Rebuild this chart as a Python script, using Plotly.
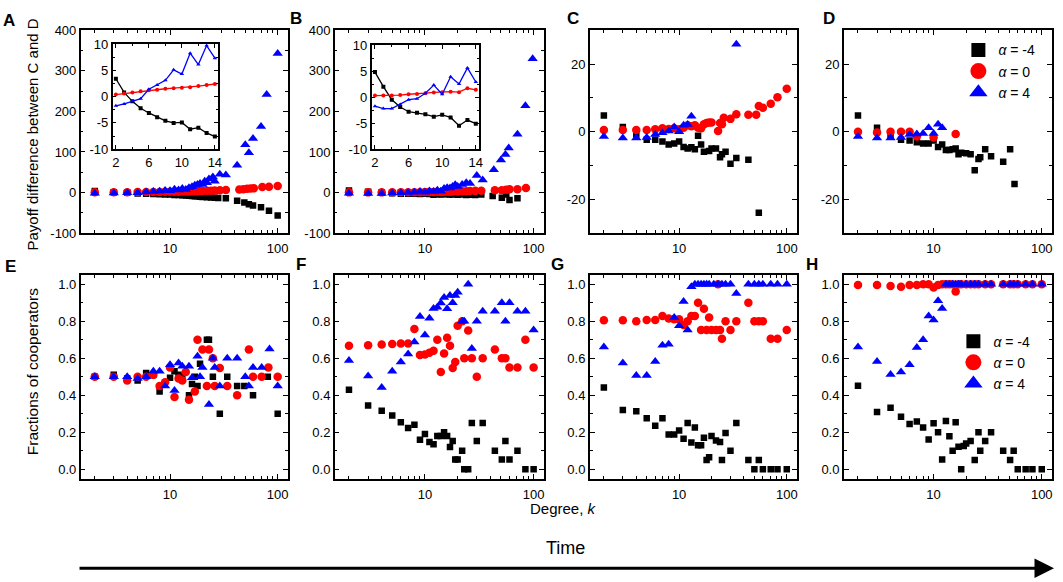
import plotly.graph_objects as go

W, H = 1063, 582
FONT = "Liberation Sans, Arial, sans-serif"

# degrees shown in the insets (and first points of every panel)
K_LOW = [2, 3, 4, 5, 6, 7, 8, 9, 10, 11, 12, 13, 14]

# ---- A: payoff difference between C and D
A_NEG_K = K_LOW + [15, 16, 17, 18, 19, 20, 22, 24, 26, 28, 33, 42, 49, 54, 59, 70, 83, 100]
A_NEG_V = [3.4, 0.8, -0.9, -2.2, -3.1, -3.9, -4.6, -5.0, -4.9, -6.2, -5.9, -6.9, -7.6,
           -8, -8.5, -9, -9.5, -10.5, -11, -12, -12.5, -13, -13.5, -14.4, -20.6, -24.7, -28.8,
           -31.9, -36.7, -44.8, -56.8]
A_ZERO_K = K_LOW + [15, 16, 17, 18, 19, 20, 22, 24, 26, 29, 33, 44, 48, 52, 56, 60, 72, 83, 100]
A_ZERO_V = [0.4, 0.6, 0.8, 1.0, 1.2, 1.3, 1.5, 1.6, 1.7, 1.8, 2.0, 2.2, 2.4,
            2.6, 2.8, 3.0, 3.3, 3.5, 3.8, 4.2, 4.6, 5.0, 5.5, 6.0, 7.3, 8, 9, 10, 10.5, 13.7, 14, 16]
A_POS_K = K_LOW + [15, 16, 17, 18, 19, 20, 21, 22, 23, 25, 26, 29, 33, 42, 50, 54, 59, 70, 79, 100]
A_POS_V = [-1.75, -1.4, -0.9, -0.4, 1.4, 2.2, 3.1, 5.1, 4.3, 8.25, 6.1, 9.7, 7.3,
           12, 14, 18, 20, 22, 20, 28, 24, 33, 38, 28, 45, 43, 67, 118, 98, 133, 163, 242, 343]

# ---- B
B_NEG_K = K_LOW + [15, 16, 17, 18, 20, 22, 24, 26, 29, 33, 42, 51, 56, 60, 71]
B_NEG_V = [4.8, 2.0, -0.5, -1.9, -2.8, -3.0, -3.3, -3.75, -3.4, -3.9, -5.5, -4.4, -5.1,
           -4, -4.5, -5, -4.8, -5.5, -5, -6, -5.5, -6.4, -5, -8.8, -12.7, -4.8, -18.4, -14.4]
B_ZERO_K = K_LOW + [15, 16, 17, 18, 20, 22, 24, 26, 29, 33, 44, 51, 56, 60, 71, 85]
B_ZERO_V = [0.3, 0.3, 0.3, 0.4, 0.55, 0.6, 0.75, 0.9, 0.95, 1.05, 0.95, 1.7, 1.4,
            1.6, 1.8, 2, 2.2, 2.5, 3, 3.3, 3.6, 4, 4.5, 5.7, 5.7, 7, 8, 8, 11.3]
B_POS_K = K_LOW + [15, 16, 17, 18, 19, 20, 22, 24, 26, 30, 34, 43, 50, 55, 59, 71, 84, 98]
B_POS_V = [-1.75, -2.2, -2.2, -1.4, -0.5, -0.3, 0.75, 2.3, 0.55, 3.9, 2.5, 5.6, 2.9,
           10, 12, 11, 15, 19, 15, 20, 24, 22, 41.7, 31, 56, 80, 94, 110, 144, 214, 330]

# ---- C
C_NEG_K = K_LOW + [15, 16, 17, 19, 20, 22, 24, 25, 27, 30, 34, 44, 55]
C_NEG_V = [4.8, 1.4, -0.8, -2.4, -2.4, -2.9, -3.8, -3.5, -2.9, -4.5, -5.0, -4.6, -5.2,
           -1.2, -3.8, -5.9, -5.7, -5.0, -5.0, -7.6, -6.7, -5.9, -9.5, -7.8, -8.3, -24.0]
C_ZERO_K = K_LOW + [15, 16, 17, 18, 19, 20, 23, 24, 25, 26, 30, 34, 44, 52, 55, 60, 71, 82, 100]
C_ZERO_V = [0.5, 0.5, 0.5, 0.5, 0.7, 1.0, 0.8, 1.0, 0.7, 1.2, 1.9, 1.6, 1.9,
            1.2, 1.0, 2.2, 2.6, 2.7, 2.7, 0.2, 2.6, 2.2, 4.1, 3.8, 5.2, 5.0, 5.0, 7.6, 7.1, 8.3, 10.2, 12.7]
C_POS_K = [2, 3, 4, 5, 6, 7, 8, 9, 10, 11, 12, 13, 34]
C_POS_V = [-1.4, -1.9, -1.9, -1.7, -0.8, -0.3, 0.2, 1.4, 0.0, 1.9, 2.1, 4.6, 25.9]

# ---- D
D_NEG_K = K_LOW + [15, 16, 17, 18, 20, 22, 24, 26, 27, 30, 34, 44, 51, 56]
D_NEG_V = [4.8, 1.2, -1.2, -2.4, -2.6, -3.1, -3.5, -3.5, -2.6, -4.5, -3.8, -5.4, -5.4,
           -5.2, -5.0, -6.7, -6.2, -6.4, -6.7, -11.4, -8.1, -7.6, -5.2, -7.3, -8.9, -5.2, -15.5]
D_ZERO_K = [2, 3, 4, 5, 6, 7, 10, 16]
D_ZERO_V = [0, -0.2, 0, 0, 0, -1.4, -1.7, -0.7]
D_POS_K = [2, 3, 4, 5, 6, 7, 8, 9, 10, 11, 12]
D_POS_V = [-1.4, -1.9, -1.9, -1.7, -0.8, -0.7, -0.5, 1.2, -0.5, 2.2, 1.2]

# ---- E: fractions of cooperators
E_NEG_K = [2, 3, 4, 5, 6, 7, 8, 10, 11, 12, 13, 15, 16, 17, 18, 19, 22, 23, 25, 29, 34, 42, 49, 59, 81, 100]
E_NEG_V = [0.50, 0.51, 0.49, 0.48, 0.52, 0.51, 0.42, 0.495, 0.53, 0.51, 0.50, 0.40, 0.46,
           0.50, 0.45, 0.57, 0.70, 0.70, 0.50, 0.30, 0.50, 0.45, 0.45, 0.40, 0.50, 0.30]
E_ZERO_K = [2, 3, 4, 5, 6, 7, 8, 9, 10, 11, 12, 13, 14, 15, 17, 18, 20, 22, 23, 25, 26, 29, 34, 42, 54, 59, 71, 82, 100]
E_ZERO_V = [0.50, 0.50, 0.48, 0.50, 0.50, 0.51, 0.45, 0.47, 0.55, 0.39, 0.49, 0.48, 0.525, 0.375,
            0.42, 0.70, 0.647, 0.45, 0.647, 0.60, 0.45, 0.547, 0.45, 0.40, 0.647, 0.50, 0.50, 0.55, 0.50]
E_POS_K = [2, 3, 4, 5, 6, 7, 8, 9, 10, 11, 12, 13, 15, 16, 18, 19, 20, 23, 25, 26, 29, 34, 42, 50, 54, 59, 71, 84, 100]
E_POS_V = [0.50, 0.50, 0.50, 0.49, 0.50, 0.53, 0.53, 0.45, 0.565, 0.425, 0.574, 0.556,
           0.556, 0.495, 0.61, 0.50, 0.55, 0.35, 0.60, 0.55, 0.45, 0.60, 0.60, 0.50, 0.45, 0.55, 0.55, 0.65, 0.45]

# ---- F
F_K = K_LOW + [15, 16, 17, 18, 19, 20, 22, 23, 25, 27, 30, 34, 44, 51, 55, 60, 71, 84, 100]
F_NEG_V = [0.43, 0.345, 0.316, 0.29, 0.254, 0.223, 0.24, 0.16, 0.19, 0.147, 0.135, 0.18, 0.18,
           0.20, 0.18, 0.12, 0.153, 0.053, 0.053, 0.10, 0.0, 0.0, 0.25, 0.153, 0.25, 0.10, 0.053,
           0.153, 0.053, 0.10, 0.0, 0.0]
F_ZERO_V = [0.667, 0.67, 0.674, 0.677, 0.679, 0.679, 0.758, 0.617, 0.62, 0.63, 0.64, 0.70, 0.525,
            0.626, 0.71, 0.667, 0.547, 0.58, 0.775, 0.80, 0.60, 0.75, 0.60, 0.50, 0.60, 0.647, 0.60,
            0.60, 0.55, 0.55, 0.70, 0.55]
F_POS_V = [0.588, 0.504, 0.442, 0.53, 0.579, 0.623, 0.688, 0.825, 0.726, 0.816, 0.868, 0.875, 0.898,
           0.928, 0.867, 0.939, 0.90, 0.939, 0.956, 0.80, 0.80, 1.0, 0.653, 0.80, 0.854, 0.854, 0.90,
           0.80, 0.90, 0.854, 0.854, 0.753]

# ---- G
G_NEG_K = K_LOW + [15, 16, 17, 18, 19, 20, 22, 24, 25, 27, 30, 34, 44, 50, 55, 60, 71, 82, 100]
G_NEG_V = [0.442, 0.32, 0.314, 0.275, 0.235, 0.275, 0.188, 0.188, 0.21, 0.165, 0.25, 0.144, 0.226,
           0.13, 0.13, 0.17, 0.05, 0.065, 0.18, 0.156, 0.147, 0.05, 0.196, 0.10, 0.25, 0.05, 0.0,
           0.05, 0.0, 0.0, 0.0, 0.0]
G_ZERO_K = K_LOW + [15, 16, 17, 18, 19, 20, 22, 23, 24, 25, 27, 30, 34, 44, 50, 55, 60, 71, 82, 100]
G_ZERO_V = [0.805, 0.805, 0.80, 0.807, 0.807, 0.828, 0.814, 0.81, 0.81, 0.78, 0.80, 0.828, 0.828,
            0.90, 0.753, 0.867, 0.753, 0.82, 0.753, 0.753, 1.0, 0.753, 0.705, 0.80, 0.753, 0.80,
            0.90, 0.80, 0.80, 0.80, 0.705, 0.705, 0.753]
G_POS_K = K_LOW + [15, 16, 17, 18, 19, 21, 23, 25, 27, 30, 34, 44, 50, 55, 60, 71, 82, 100]
G_POS_V = [0.661, 0.574, 0.507, 0.507, 0.582, 0.67, 0.675, 0.82, 0.775, 0.907, 0.753, 0.986, 1.0,
           1.0, 1.0, 1.0, 1.0, 1.0, 1.0, 1.0, 1.0, 1.0, 1.0, 0.95, 1.0, 1.0, 1.0, 1.0, 1.0, 1.0, 1.0]

# ---- H
H_NEG_K = K_LOW + [15, 16, 17, 18, 19, 20, 22, 24, 26, 27, 30, 34, 44, 51, 55, 60, 71, 82, 100]
H_NEG_V = [0.451, 0.31, 0.333, 0.284, 0.244, 0.258, 0.226, 0.161, 0.249, 0.20, 0.053, 0.261, 0.179,
           0.10, 0.254, 0.121, 0.0, 0.126, 0.139, 0.153, 0.05, 0.20, 0.10, 0.153, 0.20, 0.10, 0.05,
           0.10, 0.0, 0.0, 0.0, 0.0]
H_K = K_LOW + [15, 16, 17, 18, 20, 22, 24, 26, 30, 34, 44, 51, 55, 60, 71, 82, 100]
H_ZERO_V = [0.995, 0.995, 0.99, 0.986, 0.995, 0.995, 1.0, 1.0, 0.982, 0.995, 1.0, 1.0, 1.0,
            1.0, 0.96, 1.0, 1.0, 1.0, 1.0, 1.0, 1.0, 1.0, 1.0, 1.0, 1.0, 1.0, 1.0, 1.0, 1.0, 1.0]
H_POS_V = [0.661, 0.582, 0.512, 0.525, 0.565, 0.658, 0.70, 0.828, 0.807, 0.91, 0.868, 1.0, 1.0,
           1.0, 1.0, 1.0, 1.0, 1.0, 1.0, 1.0, 1.0, 1.0, 1.0, 1.0, 1.0, 1.0, 1.0, 1.0, 1.0, 1.0]

SERIES_NAMES = ["<i>α</i> = -4", "<i>α</i> = 0", "<i>α</i> = 4"]

PANELS = [
    ("A", [(A_NEG_K, A_NEG_V), (A_ZERO_K, A_ZERO_V), (A_POS_K, A_POS_V)]),
    ("B", [(B_NEG_K, B_NEG_V), (B_ZERO_K, B_ZERO_V), (B_POS_K, B_POS_V)]),
    ("C", [(C_NEG_K, C_NEG_V), (C_ZERO_K, C_ZERO_V), (C_POS_K, C_POS_V)]),
    ("D", [(D_NEG_K, D_NEG_V), (D_ZERO_K, D_ZERO_V), (D_POS_K, D_POS_V)]),
    ("E", [(E_NEG_K, E_NEG_V), (E_ZERO_K, E_ZERO_V), (E_POS_K, E_POS_V)]),
    ("F", [(F_K, F_NEG_V), (F_K, F_ZERO_V), (F_K, F_POS_V)]),
    ("G", [(G_NEG_K, G_NEG_V), (G_ZERO_K, G_ZERO_V), (G_POS_K, G_POS_V)]),
    ("H", [(H_NEG_K, H_NEG_V), (H_K, H_ZERO_V), (H_K, H_POS_V)]),
]

# marker styles for alpha = -4, 0, 4
STYLES = [
    dict(symbol="square", color="black", size=6.5),
    dict(symbol="circle", color="red", size=8.5),
    dict(symbol="triangle-up", color="blue", size=9),
]

# panel frames in pixels
COLS = [(81, 289), (336, 546), (592, 800), (847, 1056)]
ROWS = [(24, 232), (275, 484)]
INSETS = [((113, 219), (38, 146)), ((373, 481), (39, 146))]
LETTER_POS = [(9, 14), (297, 12), (575, 12), (832, 12), (11, 266), (302, 264), (560, 264), (815, 264)]


def xdom(a, b):
    return [a / W, b / W]


def ydom(top, bottom):
    return [1 - bottom / H, 1 - top / H]


AX_COMMON = dict(showline=True, linewidth=1.5, linecolor="black", mirror="allticks",
                 ticks="inside", ticklen=5, tickwidth=1.2, tickcolor="black",
                 showgrid=False, zeroline=False, tickfont=dict(size=13, color="black"))
X_MINOR = [2, 3, 4, 5, 6, 7, 8, 9, 20, 30, 40, 50, 60, 70, 80, 90]

fig = go.Figure()
layout = {}

for i, (letter, series) in enumerate(PANELS):
    n = i + 1
    sfx = "" if n == 1 else str(n)
    row, col = divmod(i, 4)
    for (k, v), st in zip(series, STYLES):
        fig.add_trace(go.Scatter(
            x=k, y=v, mode="markers", showlegend=False,
            marker=dict(symbol=st["symbol"], color=st["color"], size=st["size"], line=dict(width=0)),
            xaxis="x" + sfx, yaxis="y" + sfx))

    layout["xaxis" + sfx] = dict(
        AX_COMMON, domain=xdom(*COLS[col]), anchor="y" + sfx, type="log",
        range=[0.17, 2.095], tickmode="array", tickvals=[10, 100], ticktext=["10", "100"],
        ticklabelstandoff=3,
        minor=dict(tickvals=X_MINOR, ticks="inside", ticklen=3, tickwidth=1, tickcolor="black"))

    if row == 0 and col < 2:
        yt = [-100, 0, 100, 200, 300, 400]
        yr, ymin = [-100, 400], 50
    elif row == 0:
        yt = [-20, 0, 20]
        yr, ymin = [-30, 30], 10
    else:
        yt = [0, 0.2, 0.4, 0.6, 0.8, 1.0]
        yr, ymin = [-0.05, 1.05], 0.1
    ytext = [f"{t:.1f}" if row == 1 else str(t) for t in yt]
    layout["yaxis" + sfx] = dict(
        AX_COMMON, domain=ydom(*ROWS[row]), anchor="x" + sfx, range=yr,
        tickmode="array", tickvals=yt, ticktext=ytext,
        minor=dict(tick0=0, dtick=ymin, ticks="inside", ticklen=3, tickwidth=1, tickcolor="black"))

# insets in A and B: low-degree part on linear axes
for j, panel_idx in enumerate([0, 1]):
    n = 9 + j
    sfx = str(n)
    for (k, v), st in zip(PANELS[panel_idx][1], STYLES):
        fig.add_trace(go.Scatter(
            x=k[:13], y=v[:13], mode="lines+markers", showlegend=False,
            line=dict(color=st["color"], width=1.3),
            marker=dict(symbol=st["symbol"], color=st["color"], size=4),
            xaxis="x" + sfx, yaxis="y" + sfx))
    (xa, xb), (ya, yb) = INSETS[j]
    layout["xaxis" + sfx] = dict(
        AX_COMMON, domain=xdom(xa, xb), anchor="y" + sfx, range=[1.6, 14.4],
        tickmode="array", tickvals=[2, 6, 10, 14], ticklen=4,
        minor=dict(tick0=2, dtick=2, ticks="inside", ticklen=2.5, tickcolor="black"))
    layout["yaxis" + sfx] = dict(
        AX_COMMON, domain=ydom(ya, yb), anchor="x" + sfx, range=[-10, 10],
        tickmode="array", tickvals=[-10, -5, 0, 5, 10], ticktext=["-10", "-5", "0", "5", "10"], ticklen=4,
        minor=dict(tick0=0, dtick=2.5, ticks="inside", ticklen=2.5, tickcolor="black"))

# legend entries (larger symbols than the data markers)
LEG_SIZES = [14, 16, 16]
for legend_id, axis_sfx in [("legend", "4"), ("legend2", "8")]:
    for name, st, sz in zip(SERIES_NAMES, STYLES, LEG_SIZES):
        fig.add_trace(go.Scatter(
            x=[None], y=[None], mode="markers", name=name, legend=legend_id,
            marker=dict(symbol=st["symbol"], color=st["color"], size=sz),
            xaxis="x" + axis_sfx, yaxis="y" + axis_sfx))

annotations = []
for letter, (lx, ly) in zip("ABCDEFGH", LETTER_POS):
    annotations.append(dict(text=f"<b>{letter}</b>", x=lx / W, y=1 - ly / H,
                            font=dict(size=17, color="black")))
annotations += [
    dict(text="Payoff difference between C and D", x=33 / W, y=1 - 131 / H, textangle=-90,
         font=dict(size=15, color="black")),
    dict(text="Fractions of cooperators", x=32 / W, y=1 - 374 / H, textangle=-90,
         font=dict(size=15.5, color="black")),
    dict(text="Degree, <i>k</i>", x=566 / W, y=1 - 515 / H, font=dict(size=15, color="black")),
    dict(text="Time", x=568 / W, y=1 - 555 / H, font=dict(size=18, color="black")),
]
for a in annotations:
    a.update(xref="paper", yref="paper", showarrow=False, xanchor="center", yanchor="middle")
# time arrow
annotations.append(dict(text="", x=1058 / W, y=1 - 576 / H, xref="paper", yref="paper",
                        showarrow=True, ax=-976, ay=0, arrowhead=2, arrowsize=1.3,
                        arrowwidth=3, arrowcolor="black", standoff=0))

fig.update_layout(
    width=W, height=H,
    margin=dict(l=0, r=0, t=0, b=0),
    paper_bgcolor="white", plot_bgcolor="white",
    font=dict(family=FONT, color="black", size=13),
    annotations=annotations,
    legend=dict(x=962 / W, y=1 - 28 / H, xanchor="left", yanchor="top",
                bgcolor="rgba(0,0,0,0)", font=dict(size=14), tracegroupgap=0),
    legend2=dict(x=957 / W, y=1 - 327 / H, xanchor="left", yanchor="top",
                 bgcolor="rgba(0,0,0,0)", font=dict(size=14), tracegroupgap=0),
    **layout,
)

# drop the default page margin so the figure sits at the window's top-left corner
fig.write_html("out.html", config={"displayModeBar": False},
               post_script="document.body.style.margin='0';")
